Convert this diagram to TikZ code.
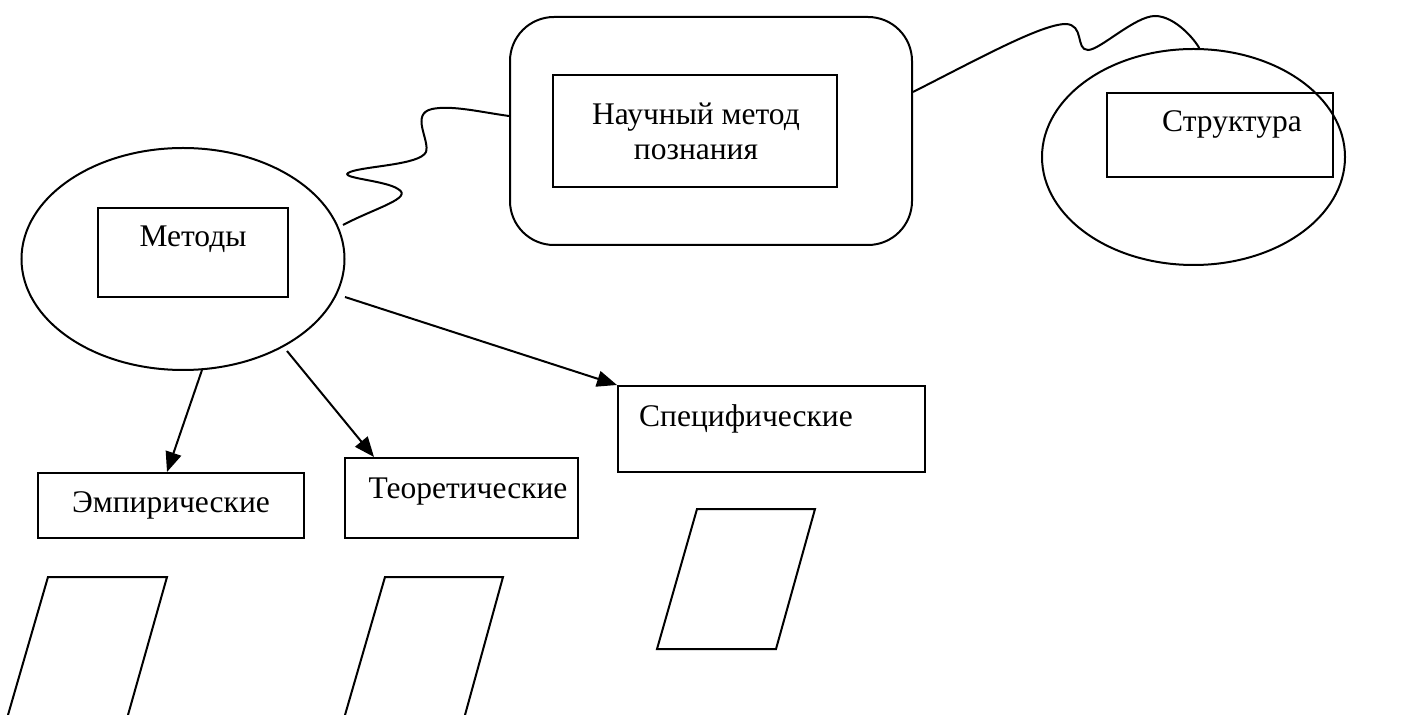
\documentclass[tikz,border=0pt]{standalone}
\usepackage{fontspec}
\setmainfont{Liberation Serif}
\usetikzlibrary{shapes.geometric,fit,arrows.meta}
\begin{document}
\begin{tikzpicture}[x=0.5pt,y=-0.5pt,
  every path/.style={line width=1pt},
  rect/.style={draw,rectangle,inner sep=0pt,line width=1pt},
  oval/.style={draw,ellipse,inner sep=0pt,line width=1pt},
  lbl/.style={anchor=base,inner sep=0pt,font=\fontsize{15.75}{17.5}\selectfont},
  arr/.style={-{Triangle[length=10pt,width=8pt]},line width=1pt},
  wave/.style={line width=1pt}]
\useasboundingbox (0,0) rectangle (1412,715);
% main rounded box
\node[rect,rounded corners=22pt,fit={(510,17)(912,245)}] (main) {};
\node[rect,fit={(553,75)(837,187)}] (mainin) {};
\node[lbl] (t1) at (696,125) {Научный метод};
\node[lbl] (t2) at (696,160) {познания};
% structure ellipse
\node[oval,minimum width=151.5pt,minimum height=108pt] (str) at (1193.5,157) {};
\node[rect,fit={(1107,93)(1333,177)}] (strin) {};
\node[lbl] (t3) at (1232,132) {Структура};
% methods ellipse
\node[oval,minimum width=161.5pt,minimum height=111pt] (met) at (183,259) {};
\node[rect,fit={(98,208)(288,297)}] (metin) {};
\node[lbl] (t4) at (193,247) {Методы};
% child boxes
\node[rect,fit={(38,473)(304,538)}] (emp) {};
\node[lbl] (t5) at (171,512) {Эмпирические};
\node[rect,fit={(345,458)(578,538)}] (teo) {};
\node[lbl] (t6) at (468,499) {Теоретические};
\node[rect,fit={(618,386)(925,472)}] (spe) {};
\node[lbl] (t7) at (746,427) {Специфические};
% arrows
\coordinate (a1) at (202,370);
\coordinate (a2) at (287,351);
\coordinate (a3) at (345,297);
\draw[arr] (a1) -- (emp.north -| 167,0);
\draw[arr] (a2) -- (teo.north -| 374,0);
\draw[arr] (a3) -- (spe.north west);
% wavy connectors
\coordinate (w1) at (343,225);
\coordinate (w2) at (main.west |- 0,116);
\draw[wave] (w1) .. controls (375,208) and (414,198) .. (398,189)
  .. controls (385,180) and (335,178) .. (350,172)
  .. controls (365,166) and (420,165) .. (426,152)
  .. controls (430,140) and (410,114) .. (432,109)
  .. controls (452,105) and (480,112) .. (w2);
\coordinate (w3) at (main.east |- 0,92);
\coordinate (w4) at (str.87);
\draw[wave] (w3) .. controls (980,58) and (1040,25) .. (1065,24)
  .. controls (1085,24) and (1075,50) .. (1088,50)
  .. controls (1100,50) and (1135,16) .. (1155,16)
  .. controls (1175,16) and (1195,40) .. (w4);
% parallelograms
\draw[line join=miter] (8,715) -- (48,577) -- (167,577) -- (128,715);
\draw[line join=miter] (345,715) -- (385,577) -- (503,577) -- (465,715);
\draw[line join=miter] (697,509) -- (815,509) -- (776,649) -- (657,649) -- cycle;
\end{tikzpicture}
\end{document}
